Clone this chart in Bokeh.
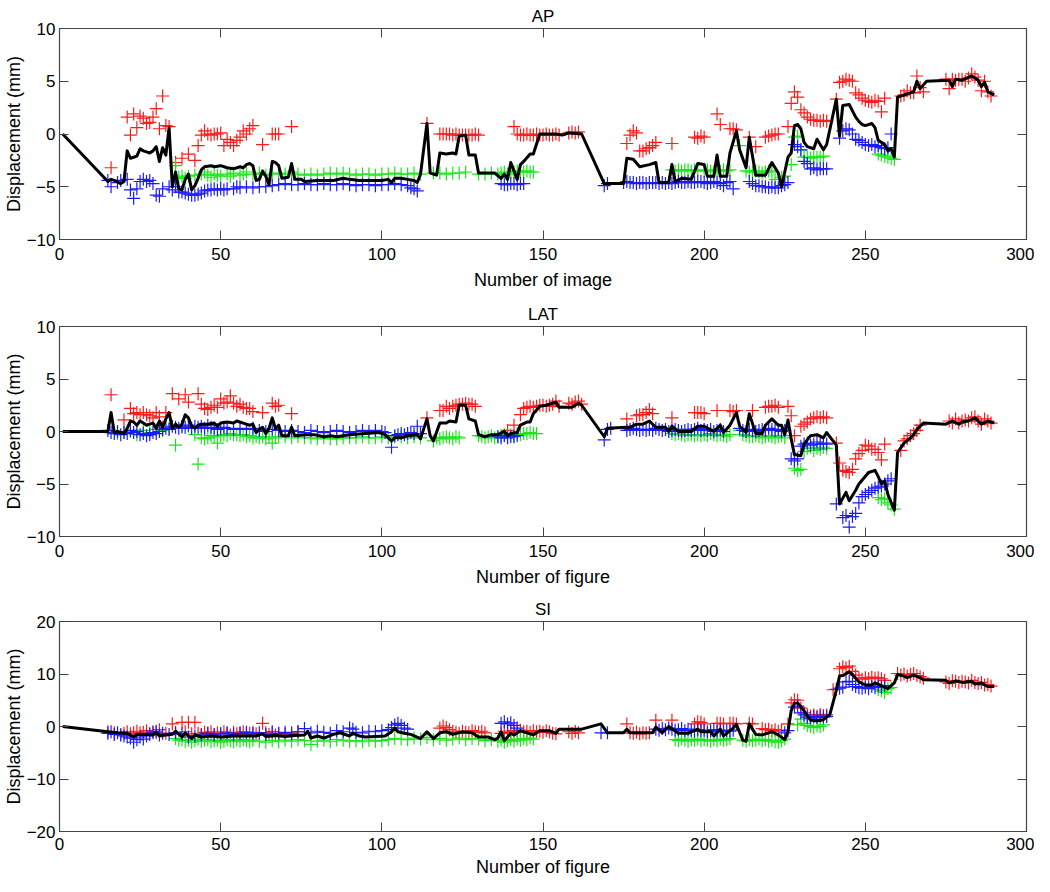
from bokeh.plotting import figure
from bokeh.layouts import column
from bokeh.models import Range1d, FixedTicker, LinearAxis
from bokeh.embed import file_html
from bokeh.resources import INLINE

# ---------------- data ----------------
x_ticks = [0, 50, 100, 150, 200, 250, 300]
ap_lat_yticks = [-10, -5, 0, 5, 10]
si_yticks = [-20, -10, 0, 10, 20]
titles = ["AP", "LAT", "SI"]
xlabels = ["Number of image", "Number of figure", "Number of figure"]
ylabel = "Displacement (mm)"

ap_black = [(1,0),(15,-4.5),(16,-4.3),(17,-4.4),(19,-4.7),(20,-4.5),(21,-1.6),(22,-2.3),(23,-2.2),(24,-2.1),(25,-1.4),(26,-1.6),(27,-1.7),(28,-1.8),(29,-1.6),(30,-1.2),(31,-2.6),(32,-1.3),(33,-2.0),(34,0.6),(35,-5.0),(36,-3.6),(37,-5.2),(38,-5.3),(39,-4.3),(40,-3.8),(41,-5.3),(42,-4.9),(43,-4.2),(44,-3.4),(45,-3.1),(47,-3.0),(48,-3.1),(50,-3.0),(52,-3.2),(54,-3.3),(56,-3.1),(57,-3.2),(58,-2.9),(59,-2.8),(60,-3.0),(61,-4.4),(62,-4.3),(63,-3.5),(64,-4.0),(65,-4.8),(66,-2.6),(67,-2.7),(68,-3.0),(69,-4.2),(71,-4.1),(72,-2.8),(73,-4.3),(75,-4.3),(76,-4.5),(80,-4.4),(85,-4.4),(88,-4.2),(90,-4.3),(93,-4.4),(97,-4.4),(100,-4.4),(102,-4.3),(103,-4.6),(104,-4.2),(106,-4.2),(108,-4.3),(110,-4.4),(111,-4.6),(112,-3.8),(114,1.0),(115,-3.7),(117,-3.9),(118,-1.8),(120,-1.9),(122,-1.8),(123,-1.9),(124,-0.2),(126,-0.1),(127,-2.0),(129,-2.0),(130,-3.7),(133,-3.7),(135,-3.7),(137,-4.2),(138,-3.8),(139,-4.3),(140,-2.7),(142,-4.3),(143,-2.9),(144,-2.6),(146,-1.9),(147,-1.9),(149,0.0),(152,0.0),(154,0.0),(156,-0.1),(158,0.1),(162,0.0),(169,-4.7),(175,-4.7),(176,-2.3),(178,-2.4),(180,-3.1),(183,-2.9),(185,-2.7),(186,-4.6),(189,-4.6),(190,-2.9),(191,-4.5),(193,-4.2),(196,-4.3),(198,-2.8),(200,-2.9),(201,-4.0),(203,-4.0),(204,-2.0),(205,-4.0),(207,-4.0),(208,-1.8),(210,0.3),(211,-1.5),(213,-3.2),(214,-0.3),(216,-3.9),(219,-3.9),(221,-2.7),(223,-3.7),(224,-5.0),(226,-2.2),(227,-1.8),(228,0.8),(229,0.9),(230,0.5),(231,-0.8),(232,-1.2),(234,-1.4),(235,-0.5),(237,-1.5),(238,-1.0),(241,3.3),(242,-0.2),(243,2.7),(245,2.8),(247,1.6),(248,1.2),(249,0.9),(250,0.8),(252,1.0),(253,0.6),(254,-0.6),(256,-1.0),(257,-1.6),(258,-1.4),(259,-2.2),(260,3.5),(262,3.7),(264,3.9),(265,4.0),(266,5.0),(267,4.3),(269,5.0),(276,5.1),(277,4.5),(278,5.2),(280,5.1),(283,5.5),(284,5.3),(285,5.1),(286,4.5),(287,4.9),(288,4.0),(290,3.7)]

ap_red = [(16,-3.2),(21,1.6),(22,-0.1),(23,1.9),(24,0.6),(25,1.7),(26,1.5),(27,1.0),(28,1.1),(29,1.6),(30,2.4),(31,0.5),(32,3.6),(33,0.8),(34,0.7),(36,-2.7),(38,-2.3),(40,-1.9),(42,-2.5),(43,-1.1),(44,-0.1),(45,0.3),(46,0.0),(47,-0.1),(48,0.0),(49,0.0),(50,0.1),(51,-1.1),(52,-0.5),(53,-0.8),(54,-1.1),(55,-0.6),(56,-0.3),(57,0.3),(58,0.0),(59,0.5),(60,0.8),(63,-1.0),(66,0.0),(67,0.0),(68,0.0),(72,0.7),(114,1.0),(118,0.0),(119,0.0),(120,0.0),(121,0.0),(122,-0.1),(123,0.0),(124,-0.1),(125,-0.1),(126,-0.1),(127,-0.1),(128,-0.1),(129,0.0),(130,-0.1),(141,0.7),(142,0.0),(143,-0.1),(144,-0.1),(145,0.0),(146,-0.1),(147,-0.1),(148,0.0),(149,-0.1),(150,-0.1),(151,0.0),(152,-0.1),(153,-0.1),(154,0.0),(155,-0.1),(158,0.1),(159,0.2),(160,0.1),(161,0.2),(176,-0.9),(177,-0.1),(178,0.3),(179,0.1),(180,-1.6),(181,-1.6),(182,-1.4),(183,-1.3),(184,-1.1),(185,-0.8),(190,-0.9),(197,-0.3),(198,-0.4),(199,-0.2),(200,-0.3),(204,1.9),(205,0.9),(208,0.5),(209,0.5),(210,0.4),(214,-0.3),(216,-1.2),(219,-0.3),(220,-0.2),(221,-0.1),(222,0.0),(223,0.0),(226,0.7),(227,2.9),(228,4.0),(229,3.5),(230,2.3),(231,2.0),(232,1.6),(233,1.4),(234,1.3),(235,1.3),(236,1.2),(237,1.3),(238,1.2),(241,3.3),(242,4.9),(243,5.0),(244,5.2),(245,5.1),(246,5.0),(247,3.9),(248,3.7),(249,3.4),(250,3.2),(251,3.1),(252,3.0),(253,3.2),(254,3.1),(255,2.1),(256,3.4),(261,3.6),(262,3.7),(263,4.1),(264,3.9),(265,3.9),(266,5.5),(267,4.4),(268,4.0),(275,5.2),(276,4.3),(277,5.2),(278,5.1),(279,5.2),(280,5.2),(281,5.0),(282,5.3),(283,5.7),(284,5.4),(285,5.1),(286,4.1),(287,5.0),(288,4.0),(289,3.6)]

ap_green = [(36,-3.0),(37,-4.1),(38,-4.0),(39,-4.2),(40,-4.0),(42,-3.9),(44,-3.8),(45,-3.6),(46,-3.9),(47,-4.1),(48,-3.8),(49,-3.9),(50,-4.0),(52,-3.8),(53,-4.0),(54,-3.7),(56,-3.9),(57,-3.8),(58,-3.6),(60,-3.8),(62,-3.7),(64,-3.9),(66,-3.8),(68,-3.7),(70,-3.8),(72,-3.6),(74,-3.8),(76,-3.9),(78,-3.8),(80,-3.9),(82,-3.8),(84,-3.7),(86,-3.8),(88,-3.7),(90,-3.8),(92,-3.9),(94,-3.8),(96,-3.8),(98,-3.9),(100,-3.8),(102,-3.8),(104,-3.7),(106,-3.8),(108,-3.8),(110,-3.7),(112,-3.8),(116,-3.7),(118,-3.7),(120,-3.8),(122,-3.7),(124,-3.7),(126,-3.6),(130,-3.8),(132,-3.8),(134,-3.7),(136,-3.8),(137,-3.7),(138,-3.6),(139,-3.8),(140,-3.6),(141,-3.6),(142,-3.5),(143,-3.6),(144,-3.6),(145,-3.5),(146,-3.6),(147,-3.6),(190,-3.4),(191,-3.5),(192,-3.4),(193,-3.5),(194,-3.4),(195,-3.4),(196,-3.5),(197,-3.4),(198,-3.5),(200,-3.5),(201,-3.4),(202,-3.5),(203,-3.6),(204,-3.4),(205,-3.5),(206,-3.4),(207,-3.5),(208,-3.4),(211,-1.1),(213,-3.5),(214,-3.6),(215,-3.6),(216,-3.5),(217,-3.6),(218,-3.7),(219,-3.6),(220,-3.5),(221,-3.6),(222,-4.3),(224,-4.1),(225,-4.0),(227,-2.9),(228,-0.3),(229,-0.2),(230,-1.5),(231,-2.2),(232,-2.2),(233,-2.3),(234,-2.2),(235,-2.2),(236,-2.2),(237,-2.1),(254,-1.9),(255,-2.0),(256,-2.1),(257,-2.2),(258,-2.3),(259,-2.4)]

ap_blue = [(15,-4.4),(16,-5.0),(18,-4.6),(19,-4.4),(21,-4.3),(22,-5.3),(23,-6.1),(24,-5.2),(25,-4.5),(26,-4.3),(27,-4.5),(28,-4.4),(29,-4.7),(30,-5.8),(31,-5.9),(32,-5.2),(34,-5.0),(35,-5.3),(36,-5.0),(37,-5.5),(38,-5.5),(39,-5.6),(40,-5.7),(41,-5.8),(42,-5.8),(43,-5.7),(44,-5.6),(45,-5.4),(46,-5.3),(47,-5.3),(48,-5.2),(49,-5.3),(50,-5.2),(51,-5.3),(52,-5.2),(54,-5.2),(55,-5.0),(56,-5.1),(58,-5.0),(60,-5.1),(62,-5.0),(64,-5.0),(66,-4.9),(68,-4.8),(70,-4.7),(72,-4.8),(74,-4.8),(76,-4.7),(78,-4.8),(80,-4.8),(82,-4.7),(84,-4.8),(86,-4.8),(88,-4.7),(90,-4.8),(92,-4.9),(94,-4.8),(96,-4.8),(98,-4.9),(100,-4.8),(102,-4.8),(104,-4.7),(106,-4.8),(108,-4.9),(109,-5.1),(110,-5.2),(111,-5.4),(137,-4.7),(138,-4.8),(139,-4.8),(140,-4.7),(141,-4.7),(142,-4.8),(143,-4.7),(144,-4.7),(169,-4.9),(170,-4.7),(175,-4.6),(176,-4.5),(177,-4.6),(178,-4.6),(179,-4.7),(180,-4.6),(181,-4.6),(182,-4.7),(183,-4.6),(184,-4.6),(185,-4.6),(186,-4.7),(187,-4.6),(188,-4.7),(189,-4.6),(190,-4.7),(191,-4.6),(192,-4.5),(193,-4.6),(194,-4.6),(195,-4.5),(196,-4.6),(197,-4.6),(198,-4.5),(199,-4.5),(200,-4.6),(201,-4.7),(202,-4.6),(203,-4.5),(204,-4.6),(205,-4.7),(206,-4.9),(207,-4.6),(208,-4.5),(209,-5.2),(214,-4.5),(215,-4.7),(216,-4.9),(217,-4.9),(218,-5.0),(219,-5.0),(220,-5.1),(221,-5.0),(222,-5.1),(223,-5.1),(224,-4.9),(225,-4.8),(226,-4.6),(228,-1.0),(229,-1.2),(230,-1.5),(231,-2.6),(232,-2.8),(233,-3.3),(234,-3.2),(235,-3.4),(236,-3.3),(237,-3.3),(238,-3.3),(242,-0.4),(243,0.3),(244,0.5),(245,0.4),(246,0.0),(247,-0.5),(248,-0.6),(249,-0.8),(250,-1.0),(251,-1.1),(252,-1.0),(253,-1.2),(254,-1.1),(255,-1.3),(256,-1.4),(257,-1.3),(258,0.0)]

lat_black = [(1,0),(15,0),(16,1.8),(17,-0.1),(18,0.0),(19,-0.1),(20,-0.2),(21,0.3),(22,1.0),(23,0.9),(24,0.6),(25,1.0),(26,0.8),(27,0.6),(28,0.7),(29,0.8),(30,0.3),(31,1.0),(32,0.4),(33,1.2),(34,1.8),(35,0.3),(36,0.7),(37,0.4),(38,0.7),(39,1.6),(40,1.3),(41,0.5),(42,0.3),(43,0.6),(44,0.7),(46,0.7),(48,0.8),(49,0.5),(50,0.8),(52,0.9),(54,0.8),(55,1.0),(57,0.8),(59,0.6),(60,0.7),(61,-0.1),(62,0.2),(63,0.4),(64,-0.2),(65,0.3),(66,1.3),(67,0.3),(68,0.6),(69,-0.4),(71,-0.4),(72,0.4),(73,-0.4),(76,-0.3),(79,-0.3),(82,-0.5),(84,-0.4),(86,-0.5),(88,-0.4),(90,-0.3),(95,-0.2),(99,-0.1),(101,-0.3),(103,-0.9),(104,-0.6),(106,-0.6),(108,-0.4),(111,-0.3),(112,-0.7),(114,1.2),(115,-0.4),(116,-0.9),(118,0.8),(120,0.8),(121,1.0),(123,0.9),(124,2.5),(126,2.5),(127,1.2),(129,1.0),(130,-0.3),(132,-0.5),(134,-0.3),(136,-0.3),(138,0.0),(139,-0.4),(140,-0.2),(142,-0.1),(143,0.6),(145,0.9),(146,0.9),(147,1.7),(149,2.4),(151,2.5),(154,2.8),(155,2.3),(159,2.3),(161,2.7),(162,2.5),(169,-0.5),(170,0.3),(176,0.4),(177,0.4),(179,0.7),(181,0.7),(183,1.0),(185,0.4),(188,0.4),(189,0.0),(190,0.5),(192,0.0),(196,0.0),(198,0.5),(200,0.5),(203,0.0),(205,0.6),(206,-0.1),(208,0.6),(210,1.8),(211,0.5),(213,-0.1),(214,1.7),(216,-0.2),(218,-0.2),(219,0.6),(221,1.2),(223,0.6),(224,0.6),(225,-0.3),(226,1.1),(227,-0.7),(228,-2.2),(230,-2.3),(231,-1.2),(233,-0.4),(235,-0.3),(237,-0.6),(238,-0.1),(240,-0.9),(241,-1.3),(242,-6.9),(244,-5.8),(245,-6.6),(247,-5.6),(248,-5.0),(251,-3.9),(253,-3.7),(254,-4.3),(255,-5.0),(256,-4.7),(257,-6.0),(259,-7.5),(260,-2.0),(262,-1.1),(264,-0.6),(265,-0.3),(266,0.2),(268,0.8),(275,0.7),(277,1.0),(279,0.7),(280,0.9),(282,1.0),(284,1.3),(286,0.7),(288,1.0),(290,0.8)]

lat_red = [(16,3.5),(20,1.1),(22,2.2),(23,1.7),(24,1.8),(25,1.6),(26,1.8),(27,1.6),(28,1.5),(29,1.3),(30,1.8),(31,1.4),(32,0.4),(33,1.8),(35,3.6),(37,3.1),(39,3.5),(40,2.8),(43,3.6),(44,2.6),(45,2.2),(46,2.1),(47,2.3),(48,2.5),(49,2.3),(50,3.1),(51,2.7),(52,2.8),(53,3.4),(54,2.7),(55,2.4),(56,2.6),(57,2.3),(58,2.2),(59,2.2),(60,1.9),(63,1.8),(66,2.7),(67,2.4),(68,2.5),(72,1.7),(114,1.3),(118,2.0),(119,2.0),(120,2.4),(121,2.2),(122,2.4),(123,2.5),(124,2.6),(125,2.6),(126,2.7),(127,2.6),(128,2.6),(129,2.4),(139,0.1),(141,0.6),(143,1.6),(144,2.2),(145,2.3),(146,2.4),(147,2.3),(148,2.4),(149,2.5),(150,2.5),(151,2.4),(152,2.5),(153,2.6),(154,2.9),(155,2.4),(158,2.7),(159,2.6),(160,2.8),(161,2.9),(162,2.6),(176,1.2),(179,1.5),(180,1.6),(181,1.6),(182,1.8),(183,2.1),(184,1.7),(190,1.3),(197,1.8),(198,1.8),(199,1.8),(200,1.7),(204,2.0),(208,2.0),(209,1.9),(210,2.0),(215,2.0),(219,2.3),(220,2.4),(221,2.4),(222,2.5),(223,2.3),(226,2.4),(227,1.5),(228,-0.4),(230,0.5),(231,0.7),(232,0.9),(233,1.2),(234,1.3),(235,1.4),(236,1.3),(237,1.4),(238,1.3),(241,-1.1),(242,-3.0),(243,-3.7),(244,-3.8),(245,-3.9),(246,-3.6),(247,-2.6),(248,-2.1),(249,-1.8),(250,-1.3),(251,-1.4),(252,-1.7),(253,-1.7),(254,-2.0),(255,-2.7),(256,-1.2),(261,-1.8),(262,-0.9),(263,-0.7),(264,-0.4),(265,-0.2),(266,0.1),(267,0.6),(276,1.0),(277,0.8),(278,1.2),(279,0.8),(280,1.0),(281,1.1),(282,1.0),(283,1.3),(284,1.4),(285,1.0),(286,0.7),(287,1.2),(288,1.0),(289,0.8)]

lat_green = [(18,-0.2),(20,-0.1),(22,0.0),(24,-0.3),(26,0.1),(28,-0.1),(30,0.2),(32,0.1),(34,0.3),(36,-1.3),(38,0.4),(40,0.5),(42,-0.3),(43,-3.1),(44,-0.6),(45,-0.7),(46,-0.6),(47,-0.4),(48,-0.5),(49,-1.1),(50,-0.4),(51,-0.3),(52,-0.4),(53,-0.2),(54,-0.3),(55,-0.3),(56,-0.4),(57,-0.3),(58,-0.5),(59,-0.4),(60,-0.6),(61,-0.5),(62,-0.6),(63,-0.5),(64,-0.7),(65,-0.5),(66,-1.1),(67,-0.6),(68,-0.5),(70,-0.5),(72,-0.6),(74,-0.5),(76,-0.6),(78,-0.6),(80,-0.7),(82,-0.6),(84,-0.7),(86,-0.7),(88,-0.6),(90,-0.6),(92,-0.6),(94,-0.5),(96,-0.6),(98,-0.6),(100,-0.5),(102,-0.6),(104,-0.5),(106,-0.5),(108,-0.6),(110,-0.5),(112,-0.6),(116,-0.9),(117,-0.6),(118,-0.7),(119,-0.6),(120,-0.5),(121,-0.6),(122,-0.7),(123,-0.5),(124,-0.6),(130,-0.4),(131,-0.5),(132,-0.6),(133,-0.5),(134,-0.4),(135,-0.6),(136,-0.5),(137,-0.4),(138,-0.3),(139,-0.5),(140,-0.3),(141,-0.4),(142,-0.2),(143,-0.3),(144,-0.2),(145,-0.2),(146,-0.1),(147,-0.2),(148,-0.2),(190,-0.2),(191,-0.3),(192,-0.2),(193,-0.3),(194,-0.4),(195,-0.3),(196,-0.3),(197,-0.4),(198,-0.3),(199,-0.4),(200,-0.3),(201,-0.4),(202,-0.2),(203,-0.3),(204,-0.4),(205,-0.3),(206,-0.4),(207,-0.5),(208,-0.3),(211,0.1),(212,-0.3),(213,-0.4),(214,-0.5),(215,-0.5),(216,-0.4),(217,-0.5),(218,-0.6),(219,-0.5),(220,-0.4),(221,-0.5),(222,-0.6),(223,-0.5),(224,-0.4),(225,-0.6),(228,-3.5),(229,-3.7),(230,-3.6),(231,-1.9),(232,-1.6),(233,-1.5),(234,-1.8),(235,-1.6),(236,-1.7),(237,-1.5),(238,-1.6),(254,-6.3),(255,-6.5),(256,-6.4),(257,-6.8),(258,-7.0),(259,-7.4)]

lat_blue = [(15,0.1),(16,-0.1),(17,-0.2),(18,0.0),(19,-0.3),(20,-0.1),(21,-0.2),(22,0.1),(23,-0.1),(24,0.0),(25,-0.3),(26,-0.2),(27,-0.4),(28,-0.3),(29,-0.1),(30,-0.2),(31,0.0),(32,0.2),(33,0.3),(34,0.2),(35,0.5),(36,0.4),(37,0.3),(38,0.5),(39,0.4),(40,0.6),(41,0.3),(42,0.5),(43,0.4),(44,0.5),(45,0.3),(46,0.6),(47,0.4),(48,0.3),(49,0.2),(50,0.3),(51,0.4),(52,0.3),(54,0.2),(56,0.3),(58,0.2),(60,0.3),(62,0.1),(64,0.0),(66,0.2),(68,0.1),(70,0.0),(72,0.1),(74,0.0),(76,-0.1),(78,0.1),(80,0.0),(82,-0.1),(84,0.0),(86,0.1),(88,0.0),(90,-0.1),(92,0.0),(94,0.1),(96,0.0),(98,0.1),(100,0.0),(101,-0.1),(103,-1.5),(104,-0.4),(105,-0.3),(106,-0.2),(107,-0.3),(108,-0.2),(109,-0.1),(110,-0.2),(111,0.5),(112,-0.2),(136,-0.5),(137,-0.6),(138,-0.4),(139,-0.6),(140,-0.5),(141,-0.5),(142,-0.4),(169,-0.8),(170,0.2),(171,0.3),(176,0.1),(177,0.2),(178,0.3),(179,0.2),(180,0.1),(181,0.2),(182,0.1),(183,0.2),(184,0.1),(185,0.3),(186,0.2),(187,0.1),(188,0.2),(189,0.0),(190,0.1),(191,0.2),(192,0.1),(193,0.0),(194,0.1),(195,0.2),(196,0.1),(197,0.2),(198,0.3),(199,0.1),(200,0.2),(201,0.1),(202,0.2),(203,0.0),(204,0.1),(205,0.2),(206,0.0),(211,0.3),(212,0.1),(213,0.0),(214,0.2),(215,0.1),(216,0.0),(217,0.1),(218,0.2),(219,0.1),(220,0.3),(221,0.2),(222,0.1),(223,0.2),(224,0.0),(225,0.1),(227,-2.6),(228,-2.8),(229,-2.6),(230,-1.4),(231,-1.2),(232,-1.1),(233,-1.3),(234,-1.2),(235,-1.0),(236,-1.2),(237,-1.1),(238,-1.2),(241,-6.9),(243,-8.2),(244,-8.0),(245,-9.1),(246,-8.1),(247,-7.8),(248,-6.8),(249,-6.2),(250,-6.0),(251,-5.8),(252,-5.6),(253,-5.4),(254,-5.3),(255,-5.2),(256,-5.0),(257,-4.7),(258,-4.5)]

si_black = [(1,0),(15,-1.0),(18,-1.2),(21,-1.3),(23,-2.0),(24,-1.5),(27,-1.5),(29,-1.6),(30,-1.1),(31,-1.8),(33,-1.6),(35,-1.5),(36,-0.9),(38,-2.0),(39,-1.2),(41,-2.3),(42,-1.6),(44,-2.0),(47,-1.8),(50,-2.0),(54,-1.8),(58,-1.8),(61,-1.8),(63,-1.4),(64,-1.9),(67,-1.7),(70,-1.9),(73,-1.7),(76,-1.6),(77,-0.9),(78,-2.2),(80,-1.8),(82,-2.2),(85,-1.5),(87,-1.2),(90,-1.8),(91,-1.3),(93,-1.8),(95,-2.0),(101,-1.8),(103,-1.0),(104,-0.3),(105,-1.0),(107,-1.3),(109,-1.5),(112,-2.3),(114,-1.0),(116,-2.3),(118,-1.2),(120,-1.0),(122,-1.5),(125,-1.0),(128,-1.2),(130,-2.0),(133,-2.0),(135,-2.5),(136,-2.2),(137,-1.0),(138,-2.7),(140,-1.3),(141,-1.6),(143,-0.8),(147,-1.6),(149,-0.8),(152,-0.8),(154,-1.3),(155,-0.5),(162,-0.5),(168,0.5),(170,-1.2),(175,-1.2),(176,-0.5),(177,-1.2),(184,-1.2),(185,-0.1),(187,-1.2),(189,0.0),(192,-1.3),(195,-1.3),(198,-0.5),(199,-1.0),(202,-1.0),(203,-1.8),(205,-0.5),(206,-1.8),(209,-0.3),(210,0.4),(212,-2.6),(213,-2.8),(214,0.5),(216,-1.5),(218,-1.6),(221,-1.0),(223,-1.6),(225,-2.5),(226,-1.0),(227,3.0),(228,4.4),(229,4.5),(231,3.0),(232,2.0),(233,1.2),(235,1.1),(237,1.3),(239,2.3),(241,6.9),(242,9.6),(243,9.7),(245,10.4),(246,9.9),(248,8.5),(250,7.9),(252,7.9),(253,8.3),(255,7.8),(257,7.2),(259,8.3),(260,9.9),(262,9.6),(263,9.3),(265,9.8),(267,9.3),(268,8.9),(275,8.8),(276,8.3),(278,8.7),(280,8.4),(283,8.6),(284,8.1),(286,8.3),(288,7.6),(290,7.6)]

si_red = [(15,-1.0),(17,-1.2),(19,-1.5),(20,-1.3),(21,-1.0),(22,-1.4),(23,-1.2),(24,-0.9),(25,-1.2),(26,-1.1),(27,-0.8),(28,-1.3),(29,-1.0),(30,-1.2),(31,-0.6),(33,-1.3),(35,0.5),(36,-1.2),(38,0.8),(39,-1.0),(40,0.8),(41,-1.4),(42,0.8),(43,-1.3),(44,-1.5),(45,-1.1),(46,-1.3),(47,-1.0),(48,-1.5),(49,-1.2),(50,-1.4),(51,-1.0),(52,-1.3),(53,-1.6),(54,-1.1),(55,-1.4),(56,-1.2),(57,-1.0),(58,-1.5),(59,-1.3),(60,-1.1),(61,-1.4),(63,0.6),(64,-1.2),(65,-1.5),(66,-1.3),(67,-1.6),(68,-1.4),(70,-1.5),(72,-1.2),(74,-1.0),(118,-0.3),(119,0.1),(120,-0.2),(121,-0.6),(122,-0.9),(123,-1.1),(124,-1.3),(125,-0.9),(126,-1.1),(127,-1.2),(128,-0.8),(129,-1.0),(130,-1.1),(131,-0.9),(132,-1.2),(137,-1.3),(138,-0.9),(139,-1.1),(140,-1.2),(141,-0.8),(142,-1.0),(143,-0.7),(144,-1.0),(145,-0.9),(146,-1.1),(147,-0.8),(148,-1.0),(149,-0.9),(150,-1.1),(151,-0.8),(152,-1.0),(153,-1.3),(154,-1.4),(158,-1.0),(159,-1.3),(160,-0.9),(161,-1.2),(176,0.5),(177,-1.2),(178,-1.3),(179,-1.1),(180,-1.4),(181,-1.2),(182,-1.3),(183,-1.2),(185,1.2),(190,1.2),(197,0.5),(198,0.9),(199,0.8),(200,0.5),(204,0.6),(205,0.6),(206,0.5),(208,0.6),(209,0.6),(210,0.5),(214,0.6),(215,0.5),(218,-0.4),(219,-0.6),(220,-0.5),(221,-0.8),(222,-0.6),(223,-0.9),(224,-0.7),(226,0.5),(227,4.5),(228,5.1),(229,5.0),(230,3.5),(231,2.6),(232,2.2),(233,2.0),(234,2.2),(235,2.0),(236,2.3),(237,2.1),(238,2.2),(240,7.0),(242,11.0),(243,11.4),(244,11.2),(245,11.5),(246,10.5),(247,9.8),(248,9.2),(249,9.0),(250,9.3),(251,9.1),(252,9.4),(253,9.2),(254,9.3),(255,9.1),(256,8.8),(260,10.1),(261,9.8),(262,10.0),(263,9.6),(264,9.9),(265,10.1),(266,9.7),(267,9.5),(268,9.2),(275,8.5),(276,8.2),(277,8.7),(278,8.6),(279,8.4),(280,8.6),(281,8.5),(282,8.3),(283,8.8),(284,8.4),(285,8.2),(286,8.4),(287,7.9),(288,8.0),(289,7.7)]

si_green = [(36,-2.3),(37,-2.6),(38,-2.5),(39,-2.8),(40,-2.6),(41,-3.0),(42,-2.7),(43,-2.4),(44,-2.8),(45,-2.6),(46,-2.5),(47,-2.9),(48,-2.7),(49,-2.6),(50,-3.0),(51,-2.8),(52,-2.5),(53,-2.7),(54,-2.9),(55,-2.6),(56,-2.8),(57,-2.5),(58,-2.7),(59,-2.9),(60,-2.6),(62,-2.8),(64,-3.0),(66,-2.7),(68,-2.9),(70,-2.6),(72,-2.8),(74,-2.5),(76,-2.7),(78,-3.4),(80,-2.8),(82,-2.6),(84,-2.9),(86,-2.5),(88,-2.6),(90,-2.8),(92,-2.7),(94,-2.9),(96,-2.6),(98,-2.8),(100,-2.7),(102,-2.5),(104,-2.3),(106,-2.4),(108,-2.5),(110,-2.2),(112,-2.4),(114,-2.1),(116,-2.5),(118,-2.3),(120,-2.6),(122,-2.4),(124,-2.2),(126,-2.5),(128,-2.3),(130,-2.4),(132,-2.7),(134,-2.5),(136,-2.8),(137,-2.6),(138,-3.0),(139,-2.7),(140,-2.5),(141,-2.8),(142,-2.4),(143,-2.6),(144,-2.3),(145,-2.5),(146,-2.2),(147,-2.4),(191,-2.5),(192,-2.7),(193,-2.4),(194,-2.6),(195,-2.8),(196,-2.5),(197,-2.6),(198,-2.4),(199,-2.7),(200,-2.5),(201,-2.6),(202,-2.8),(203,-2.5),(204,-2.7),(205,-2.4),(206,-2.6),(207,-2.5),(208,-2.3),(212,-2.6),(213,-2.8),(214,-2.5),(215,-2.7),(216,-2.6),(217,-2.4),(218,-2.7),(219,-2.5),(220,-2.8),(221,-2.6),(222,-2.9),(223,-3.0),(224,-2.7),(225,-2.4),(229,0.3),(230,1.4),(231,0.6),(232,0.2),(233,0.0),(234,-0.2),(235,0.1),(236,0.0),(237,0.3),(254,7.0),(255,6.8),(256,6.5),(257,7.2),(258,7.4)]

si_blue = [(15,-1.3),(16,-1.0),(17,-1.5),(18,-1.2),(19,-1.6),(20,-1.8),(21,-2.0),(22,-2.2),(23,-3.0),(24,-2.5),(25,-2.0),(26,-2.4),(27,-1.8),(28,-1.5),(29,-1.2),(30,-0.9),(31,-1.6),(32,-1.3),(34,-1.5),(36,-1.2),(38,-1.4),(40,-2.0),(42,-1.8),(44,-1.6),(46,-1.3),(48,-1.6),(50,-1.4),(52,-1.2),(54,-1.5),(56,-1.3),(58,-1.1),(60,-1.4),(62,-1.2),(64,-1.5),(66,-1.0),(68,-1.3),(70,-1.1),(72,-1.4),(74,-1.0),(76,-0.4),(78,-1.2),(80,-0.9),(82,-1.1),(84,-1.3),(86,-0.8),(88,-1.0),(90,-0.3),(91,-0.5),(92,-1.1),(94,-1.2),(96,-0.9),(98,-1.0),(100,-0.8),(102,-0.6),(103,-0.2),(104,0.3),(105,0.6),(106,0.2),(107,-0.3),(108,-0.5),(137,0.6),(138,0.9),(139,0.5),(140,0.7),(141,0.2),(142,-0.3),(168,-1.2),(170,-1.2),(185,-0.5),(186,-0.7),(187,-0.4),(188,-0.6),(189,-0.3),(190,-0.5),(191,-0.7),(192,-0.6),(193,-0.4),(194,-0.8),(195,-0.5),(196,-0.7),(197,-0.9),(198,-0.6),(199,-0.8),(200,-0.7),(201,-1.0),(202,-0.8),(203,-0.6),(204,-0.9),(205,-0.7),(206,-1.0),(207,-0.8),(208,-0.9),(209,-0.7),(225,-1.2),(226,-0.8),(228,3.7),(229,3.9),(230,2.6),(231,2.2),(232,1.8),(233,1.6),(234,1.9),(235,1.7),(236,2.0),(237,1.8),(238,1.9),(241,7.1),(242,7.3),(243,7.5),(244,8.5),(245,8.6),(246,8.0),(247,7.6),(248,7.4),(249,7.3),(250,7.5),(251,7.2),(252,7.6),(253,7.4),(254,7.7),(255,7.5),(256,7.8)]

# ---------------- styling ----------------
FONT = "Liberation Sans"
RED, GREEN, BLUE = "#ff1a1a", "#19e619", "#1a1aff"
BOX = "#444444"


def unzip(pts):
    return [a for a, _ in pts], [b for _, b in pts]


def box_ticks(ticks):
    # inward tick marks on the opposite side of the box (no labels)
    return LinearAxis(ticker=FixedTicker(ticks=ticks), axis_line_color=None,
                      major_tick_in=9, major_tick_out=0, major_tick_line_color=BOX,
                      minor_tick_line_color=None, major_label_text_font_size="0px",
                      major_label_text_color=None, major_label_standoff=0,
                      axis_label_standoff=0)


def panel(title, xlabel, ylim, yticks, red, green, blue, black, h, btop, bbot, xstand=(8, 7)):
    p = figure(width=1034, height=h, x_range=Range1d(0, 300), y_range=Range1d(*ylim),
               output_backend="svg", toolbar_location=None,
               min_border_left=50, min_border_right=8,
               min_border_top=btop, min_border_bottom=bbot)
    p.title.text = title
    p.title.align = "center"
    p.title.text_font = FONT
    p.title.text_font_size = "17px"
    p.title.text_font_style = "normal"
    p.title.text_color = "black"
    p.title.standoff = 6
    p.title.offset = 0
    p.xgrid.visible = False
    p.ygrid.visible = False
    p.outline_line_color = BOX
    p.outline_line_width = 1.2
    p.outline_line_alpha = 1
    p.background_fill_color = "white"
    p.border_fill_color = "white"

    for ax in (p.xaxis[0], p.yaxis[0]):
        ax.axis_line_color = BOX
        ax.major_tick_in = 9
        ax.major_tick_out = 0
        ax.major_tick_line_color = BOX
        ax.minor_tick_line_color = None
        ax.major_label_text_font = FONT
        ax.major_label_text_font_size = "17px"
        ax.major_label_text_color = "black"
        ax.axis_label_text_font = FONT
        ax.axis_label_text_font_size = "18px"
        ax.axis_label_text_font_style = "normal"
        ax.axis_label_text_color = "black"
    p.xaxis[0].ticker = FixedTicker(ticks=x_ticks)
    p.yaxis[0].ticker = FixedTicker(ticks=yticks)
    p.xaxis[0].axis_label = xlabel
    p.yaxis[0].axis_label = ylabel
    p.xaxis[0].major_label_standoff = xstand[0]
    p.xaxis[0].axis_label_standoff = xstand[1]
    p.yaxis[0].major_label_standoff = 4
    p.yaxis[0].axis_label_standoff = 0

    p.add_layout(box_ticks(yticks), "right")
    p.add_layout(box_ticks(x_ticks), "above")

    for pts, c in ((red, RED), (green, GREEN), (blue, BLUE)):
        x, y = unzip(pts)
        p.scatter(x, y, marker="cross", size=13, line_color=c, line_width=1.2)
    bx, by = unzip(black)
    p.line(bx, by, line_color="black", line_width=3, line_join="round")
    return p


p1 = panel(titles[0], xlabels[0], (-10, 10), ap_lat_yticks, ap_red, ap_green, ap_blue, ap_black, 296, 28, 57)
p2 = panel(titles[1], xlabels[1], (-10, 10), ap_lat_yticks, lat_red, lat_green, lat_blue, lat_black, 295, 30, 55)
p3 = panel(titles[2], xlabels[2], (-20, 20), si_yticks, si_red, si_green, si_blue, si_black, 290, 30, 50, (6, 4))

layout = column(p1, p2, p3, spacing=0)
open("out.html", "w").write(file_html(layout, INLINE))
